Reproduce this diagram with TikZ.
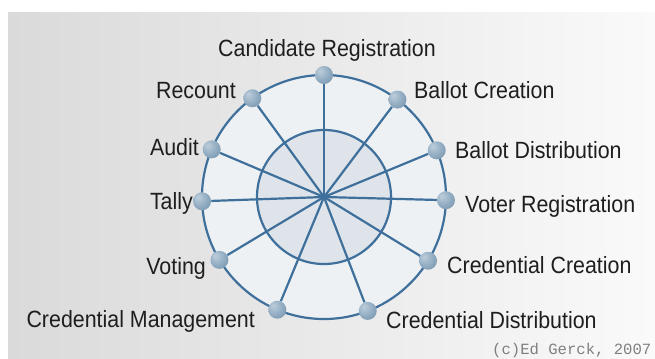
\documentclass[tikz,border=0pt]{standalone}
\usepackage{fontspec}
\setmainfont{Liberation Sans}[FakeStretch=0.91]
\setmonofont{Liberation Mono}
\definecolor{spokec}{RGB}{62,112,155}
\definecolor{ballhi}{RGB}{190,206,219}
\definecolor{ballmid}{RGB}{145,172,194}
\definecolor{balldark}{RGB}{108,138,163}
\definecolor{outerfill}{RGB}{238,241,244}
\definecolor{innerfill}{RGB}{223,228,234}
\definecolor{bgl}{RGB}{218,218,218}
\definecolor{bgr}{RGB}{250,250,250}
\definecolor{txt}{RGB}{30,30,30}
\pgfdeclareradialshading{softball}{\pgfpoint{-12bp}{12bp}}{color(0bp)=(ballhi); color(22bp)=(ballmid); color(45bp)=(balldark); color(70bp)=(balldark)}
\tikzset{
  ballnode/.style={circle, minimum size=18bp, inner sep=0, shading=softball},
  spokeline/.style={draw=spokec, line width=2.2bp},
  lbl/.style={font=\fontsize{23.5bp}{28bp}\selectfont, anchor=base west, inner sep=0, text=txt},
  lblr/.style={lbl, anchor=base east},
  copy/.style={font=\ttfamily\fontsize{15.6bp}{18bp}\selectfont, anchor=base west, inner sep=0, text=gray}
}
\begin{document}
\begin{tikzpicture}[x=1bp,y=-1bp]
\useasboundingbox (0,0) rectangle (655,358);
\fill[white] (0,0) rectangle (655,358);
\shade[left color=bgl, right color=bgr] (8,12) rectangle (655,358);
\coordinate (c) at (324,197);
\fill[outerfill] (c) circle[radius=122bp];
\fill[innerfill] (c) circle[radius=67bp];
\draw[spokeline] (c) circle[radius=122bp];
\draw[spokeline] (c) circle[radius=67bp];
% balls
\node[ballnode] (cand) at ([shift={(90:122bp)}]c) {};
\node[ballnode] (bcre) at ([shift={(53:122bp)}]c) {};
\node[ballnode] (bdis) at ([shift={(22.5:122bp)}]c) {};
\node[ballnode] (vreg) at ([shift={(-1.5:122bp)}]c) {};
\node[ballnode] (ccre) at ([shift={(-31.5:122bp)}]c) {};
\node[ballnode] (cdis) at ([shift={(-69:122bp)}]c) {};
\node[ballnode] (cman) at ([shift={(-112.5:122bp)}]c) {};
\node[ballnode] (vote) at ([shift={(-149:122bp)}]c) {};
\node[ballnode] (tally) at ([shift={(182:122bp)}]c) {};
\node[ballnode] (audit) at ([shift={(157:122bp)}]c) {};
\node[ballnode] (recount) at ([shift={(126:122bp)}]c) {};
% spokes
\foreach \n in {cand,bcre,bdis,vreg,ccre,cdis,cman,vote,tally,audit,recount}
  \draw[spokeline] (c) -- (\n);
% labels
\node[lbl] (lcand) at (218,56) {Candidate Registration};
\node[lblr] (lrec) at (236,98) {Recount};
\node[lbl] (lbcre) at (414,98) {Ballot Creation};
\node[lblr] (laud) at (199,155) {Audit};
\node[lbl] (lbdis) at (455,158) {Ballot Distribution};
\node[lblr] (ltal) at (193,209) {Tally};
\node[lbl] (lvreg) at (465,212) {Voter Registration};
\node[lblr] (lvot) at (206,274) {Voting};
\node[lbl] (lccre) at (447,273) {Credential Creation};
\node[lblr] (lcman) at (255,327) {Credential Management};
\node[lbl] (lcdis) at (386,328) {Credential Distribution};
\node[copy] (lcopy) at (492,354) {(c)Ed Gerck, 2007};
\end{tikzpicture}
\end{document}
